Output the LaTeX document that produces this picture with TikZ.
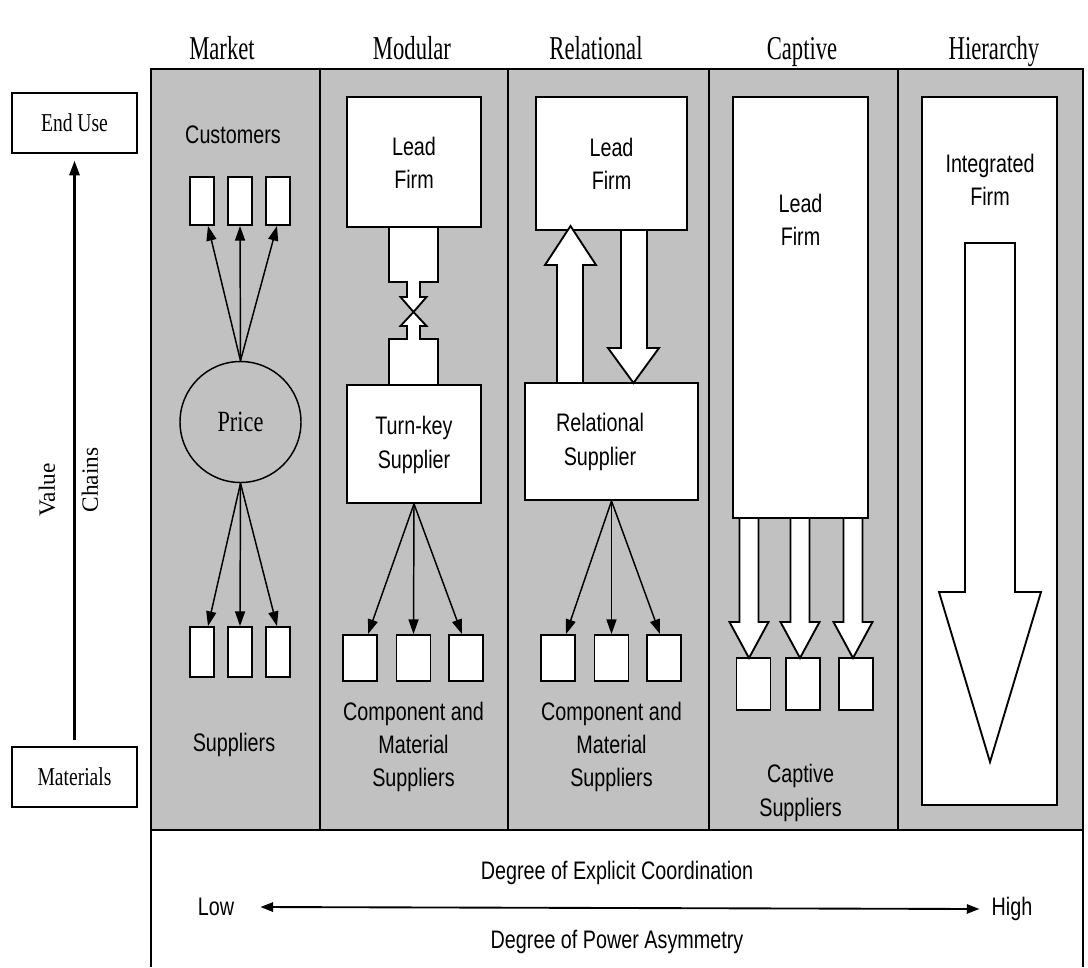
\documentclass[tikz,border=0pt]{standalone}
\usepackage{fontspec}
\setmainfont{Liberation Serif}[FakeStretch=0.76]
\setsansfont{Liberation Sans}[FakeStretch=0.78]
\newfontfamily\rotfont{Liberation Serif}
\newfontfamily\hdrfont{Liberation Serif}[FakeStretch=0.68]
\usetikzlibrary{arrows.meta,calc}
\newlength\pu \setlength\pu{0.75pt}
\definecolor{panel}{RGB}{193,193,193}
\begin{document}
\begin{tikzpicture}[x=0.75pt,y=-0.75pt,
  frame/.style={line width=1.4pt},
  wbox/.style={draw, fill=white, line width=1.4pt, inner sep=0pt},
  hdr/.style={font=\hdrfont\fontsize{25}{30}\selectfont, anchor=base, inner sep=0pt},
  serlbl/.style={font=\fontsize{19.3}{24}\selectfont},
  lbl/.style={font=\sffamily\fontsize{19}{25}\selectfont, align=center, inner sep=0pt},
  rot/.style={font=\rotfont\fontsize{17.5}{21}\selectfont, rotate=90, inner sep=0pt},
  arr/.style={-{Triangle[length=11pt,width=7.5pt]}, line width=1.1pt},
  varr/.style={-{Triangle[length=11pt,width=7.5pt]}, line width=2pt},
  darr/.style={{Triangle[length=9.5pt,width=7pt]}-{Triangle[length=9.5pt,width=7pt]}, line width=1.4pt},
  blk/.style={draw, fill=white, line width=1.4pt, line join=miter}
]
\useasboundingbox (0,0) rectangle (1088,967);

% panel
\fill[panel] (151,69) rectangle (1083,830);
\draw[frame] (151,967) -- (151,69) -- (1083,69) -- (1083,967);
\draw[frame] (151,830) -- (1083,830);
\foreach \xx in {320,508,709,898} \draw[frame] (\xx,69) -- (\xx,830);

% headers
\node[hdr] (hmarket) at (222,59) {Market};
\node[hdr] (hmodular) at (412,59) {Modular};
\node[hdr] (hrelational) at (596,59) {Relational};
\node[hdr] (hcaptive) at (802,59) {Captive};
\node[hdr] (hhierarchy) at (994,59) {Hierarchy};

% left axis
\node[wbox, serlbl, minimum width=125\pu, minimum height=60\pu] (enduse) at (74.5,123) {End Use};
\node[wbox, serlbl, minimum width=125\pu, minimum height=60\pu] (materials) at (74.5,777) {Materials};
\draw[varr] ([yshift=4.5pt]materials.north) -- ([yshift=-5pt]enduse.south);
\node[rot] (value) at (47,490) {Value};
\node[rot] (chains) at (90,480) {Chains};

% Market
\node[lbl] (customers) at (233,135) {Customers};
\foreach \n/\cx in {1/202,2/240,3/278}{
  \node[wbox, minimum width=24\pu, minimum height=48\pu] (c\n) at (\cx,201) {};
  \node[wbox, minimum width=24\pu, minimum height=50\pu] (s\n) at (\cx,652) {};
}
\node[draw, circle, line width=1.1pt, minimum size=121\pu, inner sep=0pt,
      font=\fontsize{22}{26}\selectfont] (price) at (240.5,422) {Price};
\draw[arr] (price.north) -- ([xshift=4.5pt]c1.south);
\draw[arr] (price.north) -- (c2.south);
\draw[arr] (price.north) -- ([xshift=-0.75pt]c3.south);
\draw[arr] (price.south) -- ([xshift=4.5pt]s1.north);
\draw[arr] (price.south) -- (s2.north);
\draw[arr] (price.south) -- ([xshift=-0.75pt]s3.north);
\node[lbl] (msup) at (234,745) {Suppliers};

% Modular
\node[wbox, minimum width=134\pu, minimum height=130\pu] (mlead) at (414,162) {};
\node[lbl] (mleadt) at (414,163) {Lead\\Firm};
\node[wbox, minimum width=134\pu, minimum height=118\pu] (tk) at (414,444) {};
\node[lbl] (tkt) at (414,445) {Turn-key\\Supplier};
\draw[blk] (389,227) -- (389,282) -- (407,282) -- (407,297) -- (400.5,297) -- (413.5,312)
  -- (426.5,297) -- (420,297) -- (420,282) -- (438,282) -- (438,227) -- cycle;
\draw[blk] (389,385) -- (389,339) -- (407,339) -- (407,326) -- (400.5,326) -- (413.5,312)
  -- (426.5,326) -- (420,326) -- (420,339) -- (438,339) -- (438,385) -- cycle;
\foreach \n/\cx in {1/360,2/413.5,3/466}
  \node[wbox, minimum width=34\pu, minimum height=46\pu] (m\n) at (\cx,658) {};
\draw[arr] (tk.south) -- ([xshift=6pt]m1.north);
\draw[arr] (tk.south) -- (m2.north);
\draw[arr] (tk.south) -- ([xshift=-3pt]m3.north);
\node[lbl] (mcomp) at (413.5,747) {Component and\\Material\\Suppliers};

% Relational
\node[wbox, minimum width=151\pu, minimum height=133\pu] (rlead) at (611.5,163.5) {};
\node[lbl] (rleadt) at (611.5,164) {Lead\\Firm};
\node[wbox, minimum width=173\pu, minimum height=117\pu] (rs) at (611.5,441.5) {};
\node[lbl] (rst) at (600,442) {Relational\\Supplier};
\draw[blk] (557,383) -- (557,265) -- (545,265) -- (570.5,226) -- (596,265) -- (583,265) -- (583,383) -- cycle;
\draw[blk] (621,230) -- (621,348) -- (608,348) -- (633.5,383) -- (659,348) -- (647,348) -- (647,230) -- cycle;
\foreach \n/\cx in {1/558,2/611.5,3/664}
  \node[wbox, minimum width=34\pu, minimum height=46\pu] (r\n) at (\cx,658) {};
\draw[arr] (rs.south) -- ([xshift=6pt]r1.north);
\draw[arr] (rs.south) -- (r2.north);
\draw[arr] (rs.south) -- ([xshift=-3pt]r3.north);
\node[lbl] (rcomp) at (611.5,747) {Component and\\Material\\Suppliers};

% Captive
\node[wbox, minimum width=135\pu, minimum height=421\pu] (clead) at (800.5,307.5) {};
\node[lbl] (cleadt) at (800.5,219.5) {Lead\\Firm};
\foreach \n/\bx in {1/753.5,2/803.3,3/855.8}
  \node[wbox, minimum width=34\pu, minimum height=52\pu] (k\n) at (\bx,684) {};
\foreach \cx in {749,800,853}
  \draw[blk] (\cx-9.5,518) -- (\cx-9.5,622) -- (\cx-19.5,622) -- (\cx,658) -- (\cx+19.5,622)
    -- (\cx+9.5,622) -- (\cx+9.5,518) -- cycle;
\node[lbl] (csup) at (800.5,793) {Captive\\Suppliers};

% Hierarchy
\node[wbox, minimum width=135\pu, minimum height=708\pu] (hout) at (989.5,451) {};
\node[lbl] (hint) at (990,179.5) {Integrated\\Firm};
\draw[blk] (965,243) -- (965,592) -- (939,592) -- (990,762) -- (1041,592) -- (1015,592) -- (1015,243) -- cycle;

% bottom
\node[lbl] (coord) at (617,873) {Degree of Explicit Coordination};
\node[lbl] (power) at (617,942) {Degree of Power Asymmetry};
\node[lbl] (low) at (216,907) {Low};
\node[lbl] (high) at (1012,909) {High};
\draw[darr] ([xshift=19.5pt]low.east) -- ([xshift=-9pt]high.west);
\end{tikzpicture}
\end{document}
